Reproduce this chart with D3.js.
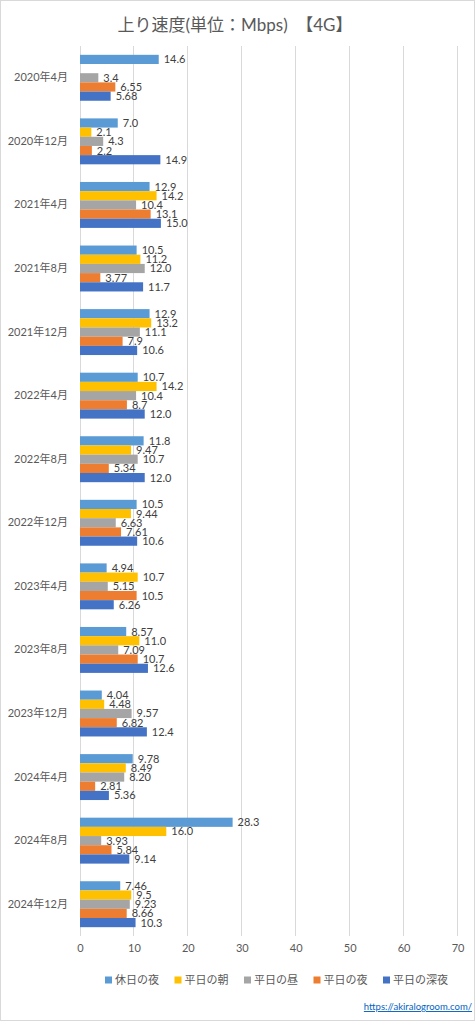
<!DOCTYPE html>
<html><head><meta charset="utf-8">
<script src="https://cdn.jsdelivr.net/npm/d3@7"></script>
<style>
html,body{margin:0;padding:0;background:#fff;}
svg{display:block;}
text{font-family:Lato,"Noto Sans CJK JP",sans-serif;}
</style></head><body>
<svg id="chart" width="476" height="1024"></svg>
<script>
const categories = ["2020年4月","2020年12月","2021年4月","2021年8月","2021年12月","2022年4月","2022年8月","2022年12月","2023年4月","2023年8月","2023年12月","2024年4月","2024年8月","2024年12月"];
const seriesNames = ["休日の夜","平日の朝","平日の昼","平日の夜","平日の深夜"];
const seriesColors = ["#5B9BD5","#FFC000","#A5A5A5","#ED7D31","#4472C4"];
// values kept as strings to preserve the displayed label format
const holidayNight = ["14.6","7.0","12.9","10.5","12.9","10.7","11.8","10.5","4.94","8.57","4.04","9.78","28.3","7.46"];
const weekdayMorning = [null,"2.1","14.2","11.2","13.2","14.2","9.47","9.44","10.7","11.0","4.48","8.49","16.0","9.5"];
const weekdayNoon = ["3.4","4.3","10.4","12.0","11.1","10.4","10.7","6.63","5.15","7.09","9.57","8.20","3.93","9.23"];
const weekdayEvening = ["6.55","2.2","13.1","3.77","7.9","8.7","5.34","7.61","10.5","10.7","6.82","2.81","5.84","8.66"];
const weekdayLateNight = ["5.68","14.9","15.0","11.7","10.6","12.0","12.0","10.6","6.26","12.6","12.4","5.36","9.14","10.3"];
const xTicks = [0,10,20,30,40,50,60,70];
const seriesValues = [holidayNight, weekdayMorning, weekdayNoon, weekdayEvening, weekdayLateNight];

const svg = d3.select("#chart");
svg.append("rect").attr("x",0.5).attr("y",0.5).attr("width",474).attr("height",1020)
  .attr("fill","#fff").attr("stroke","#d9d9d9");

svg.append("text").attr("x",235).attr("y",31).attr("text-anchor","middle")
  .attr("font-size",17).attr("fill","#595959")
  .attr("font-family","'Noto Sans CJK JP',sans-serif")
  .text("上り速度(単位：Mbps)　【4G】");

const x = d3.scaleLinear().domain([0,70]).range([80,457.5]);
const y0 = d3.scaleBand().domain(categories).range([46,936]).paddingInner(0).paddingOuter(0);
const y1 = d3.scaleBand().domain(seriesNames).range([0, y0.bandwidth()]).paddingInner(0).paddingOuter(0.96);

// gridlines
svg.append("g").selectAll("line").data(xTicks).join("line")
  .attr("x1",d=>x(d)).attr("x2",d=>x(d)).attr("y1",46).attr("y2",936)
  .attr("stroke","#d9d9d9").attr("stroke-width",1).attr("shape-rendering","crispEdges");

// x axis labels
const xAxis = d3.axisBottom(x).tickValues(xTicks).tickSize(0).tickPadding(0);
const gx = svg.append("g").attr("transform","translate(0,944)").call(xAxis);
gx.select(".domain").remove();
gx.selectAll("text").attr("font-size",11).attr("fill","#595959").attr("dy","0.71em")
  .attr("font-family","Lato,sans-serif");

// category labels
const yAxis = d3.axisLeft(y0).tickSize(0).tickPadding(0);
const gy = svg.append("g").attr("transform","translate(68,0)").call(yAxis);
gy.select(".domain").remove();
gy.selectAll("text").attr("font-size",11).attr("fill","#595959")
  .attr("font-family","Lato,'Noto Sans CJK JP',sans-serif");

// bars
const rows = [];
categories.forEach((c,i)=>{
  seriesNames.forEach((s,j)=>{
    const v = seriesValues[j][i];
    if (v !== null) rows.push({cat:c, ser:s, idx:j, v:+v, label:v});
  });
});
const g = svg.append("g");
g.selectAll("rect").data(rows).join("rect")
  .attr("x",x(0)).attr("y",d=>y0(d.cat)+y1(d.ser))
  .attr("width",d=>x(d.v)-x(0)).attr("height",y1.bandwidth())
  .attr("fill",d=>seriesColors[d.idx]);
g.selectAll("text").data(rows).join("text")
  .attr("x",d=>x(d.v)+5).attr("y",d=>y0(d.cat)+y1(d.ser)+y1.bandwidth()/2)
  .attr("dy","0.36em").attr("font-size",11).attr("fill","#404040")
  .text(d=>d.label);

// legend
const leg = svg.append("g").selectAll("g").data(seriesNames).join("g")
  .attr("transform",(d,i)=>`translate(${105+i*69.5},980)`);
leg.append("rect").attr("x",0).attr("y",-3.5).attr("width",7).attr("height",7)
  .attr("fill",(d,i)=>seriesColors[i]);
leg.append("text").attr("x",10).attr("y",0).attr("dy","0.36em")
  .attr("font-size",11).attr("fill","#595959")
  .attr("font-family","'Noto Sans CJK JP',sans-serif").text(d=>d);

svg.append("text").attr("x",472).attr("y",1010).attr("text-anchor","end")
  .attr("font-size",9.5).attr("fill","#0563C1").attr("text-decoration","underline")
  .text("https://akiralogroom.com/");
</script>
</body></html>
